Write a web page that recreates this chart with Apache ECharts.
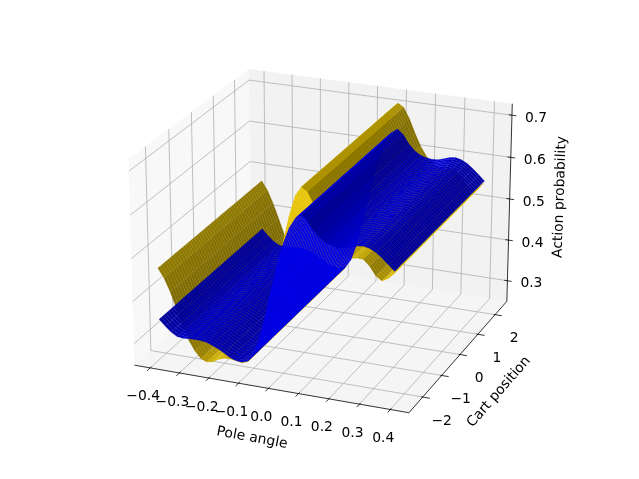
<!DOCTYPE html><html><head><meta charset="utf-8"></head><body style="margin:0;background:#fff"><div id="c" style="width:639px;height:479px"></div><script src="https://cdn.jsdelivr.net/npm/echarts@6/dist/echarts.min.js"></script><script>
const xTicks=[-0.4,-0.3,-0.2,-0.1,0,0.1,0.2,0.3,0.4];
const yTicks=[-2,-1,0,1,2];
const zTicks=[0.3,0.4,0.5,0.6,0.7];
const poleAngles=[-0.39,-0.37,-0.35,-0.33,-0.31,-0.29,-0.27,-0.25,-0.23,-0.21,-0.19,-0.17,-0.15,-0.13,-0.11,-0.09,-0.07,-0.05,-0.03,-0.01,0.01,0.03,0.05,0.07,0.09,0.11,0.13,0.15,0.17,0.19,0.21,0.23,0.25,0.27,0.29,0.31,0.33,0.35,0.37,0.39];
const cartPositions=[-2.4,-2.3,-2.2,-2.1,-2,-1.9,-1.8,-1.7,-1.6,-1.5,-1.4,-1.3,-1.2,-1.1,-1,-0.9,-0.8,-0.7,-0.6,-0.5,-0.4,-0.3,-0.2,-0.1,0,0.1,0.2,0.3,0.4,0.5,0.6,0.7,0.8,0.9,1,1.1,1.2,1.3,1.4,1.5,1.6,1.7,1.8,1.9,2,2.1,2.2,2.3,2.4];
const yellowProb=[0.471,0.45,0.42,0.384,0.346,0.313,0.29,0.274,0.268,0.271,0.279,0.284,0.285,0.283,0.28,0.286,0.314,0.362,0.415,0.467,0.519,0.577,0.637,0.685,0.706,0.698,0.673,0.64,0.611,0.589,0.575,0.566,0.563,0.566,0.565,0.552,0.532,0.523,0.531,0.545];
const blueProb=[0.351,0.337,0.325,0.317,0.315,0.316,0.317,0.317,0.315,0.31,0.304,0.296,0.288,0.283,0.282,0.287,0.308,0.348,0.403,0.465,0.523,0.573,0.61,0.634,0.644,0.632,0.612,0.598,0.589,0.585,0.583,0.584,0.588,0.593,0.595,0.592,0.585,0.574,0.562,0.549];
const xLim=[-0.454,0.460],yLim=[-2.706,2.699],zLim=[0.249,0.727];
const cam={el:22.81,az:-67.91,sx:2899.73,sy:2800.99,cx:325.34,cy:233.11,zr:0.781};
function P(n){const p=cam,X=n[0]-.5,Y=n[1]-.5,Z=(n[2]-.5)*p.zr,a=p.az*Math.PI/180,e=p.el*Math.PI/180,ca=Math.cos(a),sa=Math.sin(a),ce=Math.cos(e),se=Math.sin(e);
const xv=-sa*X+ca*Y,yv=-se*ca*X-se*sa*Y+ce*Z,d=10-(ce*ca*X+ce*sa*Y+se*Z);return [p.cx+p.sx*xv/d,p.cy-p.sy*yv/d,d];}
const nx=v=>(v-xLim[0])/(xLim[1]-xLim[0]),ny=v=>(v-yLim[0])/(yLim[1]-yLim[0]),nz=v=>(v-zLim[0])/(zLim[1]-zLim[0]);
const D=(x,y,z)=>P([nx(x),ny(y),nz(z)]);
function buildFaces(prof){const f=[];for(let i=0;i<poleAngles.length-1;i++){const s=(prof[i+1]-prof[i])/(poleAngles[i+1]-poleAngles[i]);const shade=(s+.5)/Math.sqrt(1+s*s)/1.5;const k=.3+.7*(shade+1)/2;for(let j=0;j<cartPositions.length-1;j++){const c=[D(poleAngles[i],cartPositions[j],prof[i]),D(poleAngles[i+1],cartPositions[j],prof[i+1]),D(poleAngles[i+1],cartPositions[j+1],prof[i+1]),D(poleAngles[i],cartPositions[j+1],prof[i])];f.push({d:(c[0][2]+c[1][2]+c[2][2]+c[3][2])/4,c:c.map(v=>[v[0],v[1]]),k});}}
return f.sort((a,b)=>b.d-a.d);}
function surf(prof,rgb,z){const faces=buildFaces(prof);return {type:'custom',coordinateSystem:'none',silent:true,animation:false,progressive:0,z,data:faces.map((_,i)=>[i]),renderItem:(ps,api)=>{const f=faces[api.value(0)];const col=`rgb(${rgb.map(v=>Math.round(v*f.k)).join(',')})`;return {type:'polygon',shape:{points:f.c},style:{fill:col,stroke:col,lineWidth:.2}};}};}
const pts=a=>a.map(n=>{const q=P(n);return [q[0],q[1]];});
const panes=[{c:[[0,0,0],[0,1,0],[0,1,1],[0,0,1]],f:'rgba(242,242,242,.5)'},{c:[[0,1,0],[1,1,0],[1,1,1],[0,1,1]],f:'rgba(230,230,230,.5)'},{c:[[0,0,0],[1,0,0],[1,1,0],[0,1,0]],f:'rgba(236,236,236,.5)'}];
const lineEl=(a,color,lw)=>({type:'polyline',shape:{points:pts(a)},style:{fill:null,stroke:color,lineWidth:lw}});
const G='#b0b0b0',K='#000';
const txt=(t,x,y,rot)=>({type:'text',x,y,rotation:rot||0,style:{text:t,x:0,y:0,align:'center',verticalAlign:'middle',font:'13.89px "DejaVu Sans"',fill:'#000'}});
const fmt1=v=>v.toFixed(1).replace('-','\u2212'),fmt0=v=>String(v).replace('-','\u2212');
const frame={type:'custom',coordinateSystem:'none',silent:true,animation:false,z:1,data:[[0]],renderItem:()=>{const ch=[];panes.forEach(p=>ch.push({type:'polygon',shape:{points:pts(p.c)},style:{fill:p.f}}));
xTicks.forEach(v=>{const t=nx(v);ch.push(lineEl([[t,0,0],[t,1,0],[t,1,1]],G,.8));});
yTicks.forEach(v=>{const t=ny(v);ch.push(lineEl([[1,t,0],[0,t,0],[0,t,1]],G,.8));});
zTicks.forEach(v=>{const t=nz(v);ch.push(lineEl([[0,0,t],[0,1,t],[1,1,t]],G,.8));});
ch.push(lineEl([[0,0,0],[1,0,0]],K,.8),lineEl([[1,0,0],[1,1,0]],K,.8),lineEl([[1,1,0],[1,1,1]],K,.8));
xTicks.forEach(v=>{const t=nx(v);ch.push(lineEl([[t,-.025,0],[t,.01,0]],K,.8));const q=P([t,0,0]);ch.push(txt(fmt1(v),q[0]-7,q[1]+29));});
yTicks.forEach(v=>{const t=ny(v);ch.push(lineEl([[.995,t,0],[1.025,t,0]],K,.8));const q=P([1,t,0]);ch.push(txt(fmt0(v),q[0]+19,q[1]+24));});
zTicks.forEach(v=>{const t=nz(v);ch.push(lineEl([[.988,1,t],[1.016,1,t]],K,.8));const q=P([1,1,t]);ch.push(txt(fmt1(v),q[0]+24,q[1]+3));});
ch.push(txt('Pole angle',252,438,-10.5*Math.PI/180),txt('Cart position',499,392,49*Math.PI/180),txt('Action probability',560,197,88*Math.PI/180));
return {type:'group',children:ch};}};
const chart=echarts.init(document.getElementById('c'),null,{renderer:'canvas',width:639,height:479});
chart.setOption({animation:false,backgroundColor:'#fff',series:[frame,surf(yellowProb,[255,215,0],2),surf(blueProb,[0,0,255],3)]});
</script></body></html>
